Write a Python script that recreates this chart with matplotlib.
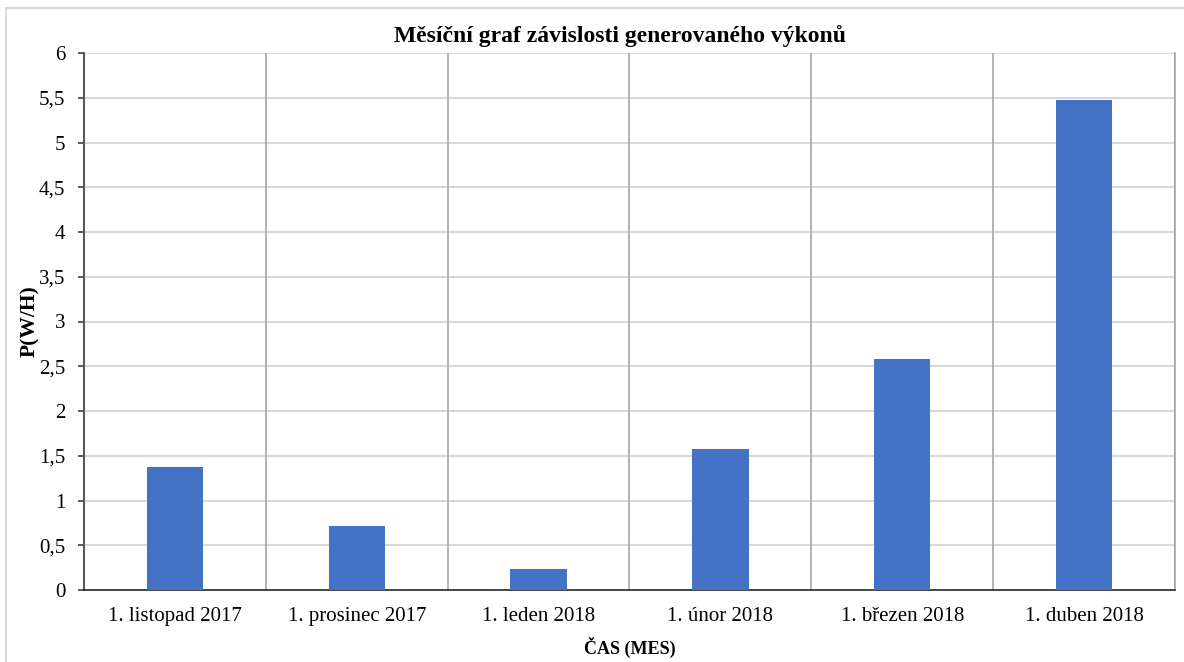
import numpy as np
import matplotlib.pyplot as plt
from matplotlib.patches import Rectangle

# data
mesice = ['1. listopad 2017', '1. prosinec 2017', '1. leden 2018',
          '1. únor 2018', '1. březen 2018', '1. duben 2018']
vykon = [1.37, 0.71, 0.24, 1.58, 2.58, 5.48]
yticks = [0, 0.5, 1, 1.5, 2, 2.5, 3, 3.5, 4, 4.5, 5, 5.5, 6]
ytick_labels = ['0', '0,5', '1', '1,5', '2', '2,5', '3', '3,5', '4', '4,5', '5', '5,5', '6']

plt.rcParams['font.family'] = ['Liberation Serif', 'DejaVu Serif']

fig = plt.figure(figsize=(11.84, 6.62), dpi=100)
ax = fig.add_axes([84/1184, 1 - 590/662, (1175-84)/1184, (590-53)/662])

# outer frame of the chart
fig.patches.append(Rectangle((6/1184, -0.05), 1.1, 1 - 8/662 + 0.05, transform=fig.transFigure,
                             fill=False, edgecolor='#D9D9D9', linewidth=1.5))

x = np.arange(len(mesice))
ax.bar(x, vykon, width=0.31, color='#4472C4', zorder=3)

ax.set_xlim(-0.5, len(mesice) - 0.5)
ax.set_ylim(0, 6)
ax.set_yticks(yticks)
ax.set_yticklabels(ytick_labels)
ax.set_xticks(x)
ax.set_xticklabels(mesice)

# horizontal grid
for yv in yticks[1:]:
    ax.axhline(yv, color='#D9D9D9', linewidth=1.5, zorder=1)
# vertical lines between categories
for xv in np.arange(0.5, len(mesice), 1.0):
    ax.axvline(xv, color='#A6A6A6', linewidth=1.2, zorder=1)

ax.spines['top'].set_visible(False)
ax.spines['right'].set_color('#A6A6A6')
ax.spines['right'].set_linewidth(1.2)
ax.spines['left'].set_color('#595959')
ax.spines['left'].set_linewidth(1.5)
ax.spines['bottom'].set_color('#262626')
ax.spines['bottom'].set_linewidth(1.2)

ax.tick_params(axis='y', length=4.5, width=1.2, color='#404040', labelsize=15, pad=9)
ax.tick_params(axis='x', length=0, labelsize=15, pad=12)

ax.set_title('Měsíční graf závislosti generovaného výkonů', fontsize=17, fontweight='bold',
             pad=8, x=0.491)
ax.set_ylabel('P(W/H)', fontsize=15.5, fontweight='bold')
ax.yaxis.set_label_coords(-0.040, 0.5)
ax.set_xlabel('ČAS (MES)', fontsize=13, fontweight='bold')
ax.xaxis.set_label_coords(0.5, -0.087)

plt.savefig('out.png', dpi=100)
